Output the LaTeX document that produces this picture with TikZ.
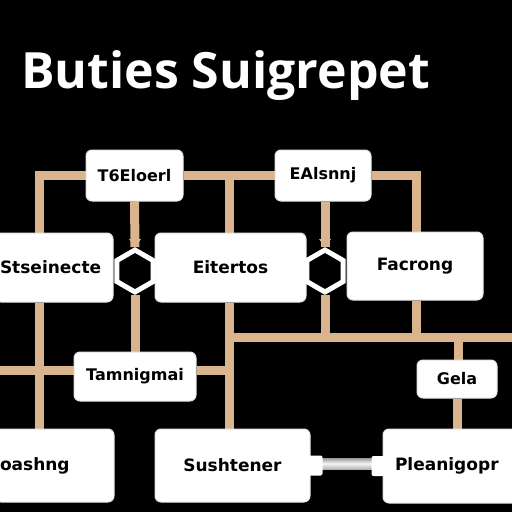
\documentclass[tikz,border=0pt]{standalone}
\usepackage{fontspec}
\setmainfont{Open Sans}
\newfontfamily\boxfont{DejaVu Sans}
\usetikzlibrary{shapes.geometric,backgrounds,arrows.meta,calc}
\definecolor{tan}{HTML}{D9B48C}
\definecolor{boxedge}{HTML}{E4E4E4}
\tikzset{
  box/.style={fill=white, draw=boxedge, line width=1pt, rounded corners=6pt, inner sep=0pt, font=\boxfont\bfseries\fontsize{17}{17}\selectfont},
  sbox/.style={box, font=\boxfont\bfseries\fontsize{16}{16}\selectfont},
  conn/.style={draw=tan, line width=9pt},
  hexa/.style={regular polygon, regular polygon sides=6, regular polygon rotate=30, minimum size=42pt, inner sep=0pt, draw=white, line width=5pt, fill=black},
  tab/.style={fill=white, rounded corners=2pt}
}
\begin{document}
\begin{tikzpicture}[x=1pt,y=-1pt]
\useasboundingbox (0,0) rectangle (512,512);
\clip (0,0) rectangle (512,512);
\begin{scope}[on background layer]
\fill[black] (0,0) rectangle (512,512);
\end{scope}
% title
\node[anchor=base west, inner sep=0pt, text=white, font=\bfseries\fontsize{50}{50}\selectfont] (title) at (21,88) {Buties Suigrepet};
% boxes
\node[sbox, minimum width=97pt, minimum height=51pt] (tl) at (134.5,175.5) {T6Eloerl};
\node[sbox, minimum width=96pt, minimum height=51pt] (tm) at (323,175.5) {EAlsnnj};
\node[box, minimum width=118pt, minimum height=69pt, text width=108pt, align=left] (ml) at (54,267.5) {Stseinecte};
\node[box, minimum width=151pt, minimum height=69pt] (mm) at (230.5,267.5) {Eitertos};
\node[box, minimum width=136pt, minimum height=68pt] (mr) at (415,266) {Facrong};
\node[sbox, minimum width=122pt, minimum height=49pt] (tg) at (135,376.5) {Tamnigmai};
\node[sbox, minimum width=80pt, minimum height=38pt] (ge) at (457,379) {Gela};
\node[box, minimum width=119pt, minimum height=73pt, text width=109pt, align=left] (bl) at (54.5,465.5) {oashng};
\node[box, minimum width=155pt, minimum height=73pt] (bm) at (232.5,465.5) {Sushtener};
\node[box, minimum width=150pt, minimum height=74pt, text width=126pt, align=left] (br) at (458,466) {Pleanigopr};
% junctions
\node[hexa] (j1) at (135,271) {};
\node[hexa] (j2) at (325,271) {};
% connectors
\coordinate (c39) at (39,0);
\coordinate (c229) at (229,0);
\coordinate (c416) at (416,0);
\coordinate (c458) at (458,0);
\coordinate (h337) at (0,337);
\coordinate (e512) at (512,337);
\coordinate (w0) at (0,370);
\begin{scope}[on background layer]
\draw[conn] (tl.west) -| (c39 |- ml.north);
\draw[conn] (tl.east) -- (tm.west);
\draw[conn] (c229 |- tl.east) -- (c229 |- mm.north);
\draw[conn] (tl.south) -- (j1.north);
\draw[conn] (j1.south) -- (tg.north);
\draw[conn] (c39 |- ml.south) -- (c39 |- bl.north);
\draw[conn] (w0) -- (w0 -| tg.west);
\draw[conn] (w0 -| tg.east) -- (c229 |- w0);
\draw[conn] (c229 |- mm.south) -- (c229 |- bm.north);
\draw[conn] (c229 |- h337) -- (e512);
\draw[conn] (tm.south -| j2) -- (j2.north);
\draw[conn] (j2.south) -- (j2 |- h337);
\draw[conn] (tm.east) -| (c416 |- mr.north);
\draw[conn] (c416 |- mr.south) -- (c416 |- h337);
\draw[conn] (c458 |- h337) -- (c458 |- ge.north);
\draw[conn] (ge.south) -- (ge.south |- br.north);
\end{scope}
% tips into hexagons
\fill[tan] ($(j1.north)+(-6,-8)$) -- ($(j1.north)+(6,-8)$) -- (j1.north) -- cycle;
\fill[tan] ($(j2.north)+(-6,-8)$) -- ($(j2.north)+(6,-8)$) -- (j2.north) -- cycle;
% grey link
\shade[top color=gray!80, bottom color=gray!60, middle color=white!92!gray] (bm.east |- 0,458) rectangle (br.west |- 0,469);
\fill[tab] ($(bm.east)+(-2,-10)$) rectangle ($(bm.east)+(12,10)$);
\fill[tab] ($(br.west)+(-11,-10)$) rectangle ($(br.west)+(2,10)$);
\end{tikzpicture}
\end{document}
